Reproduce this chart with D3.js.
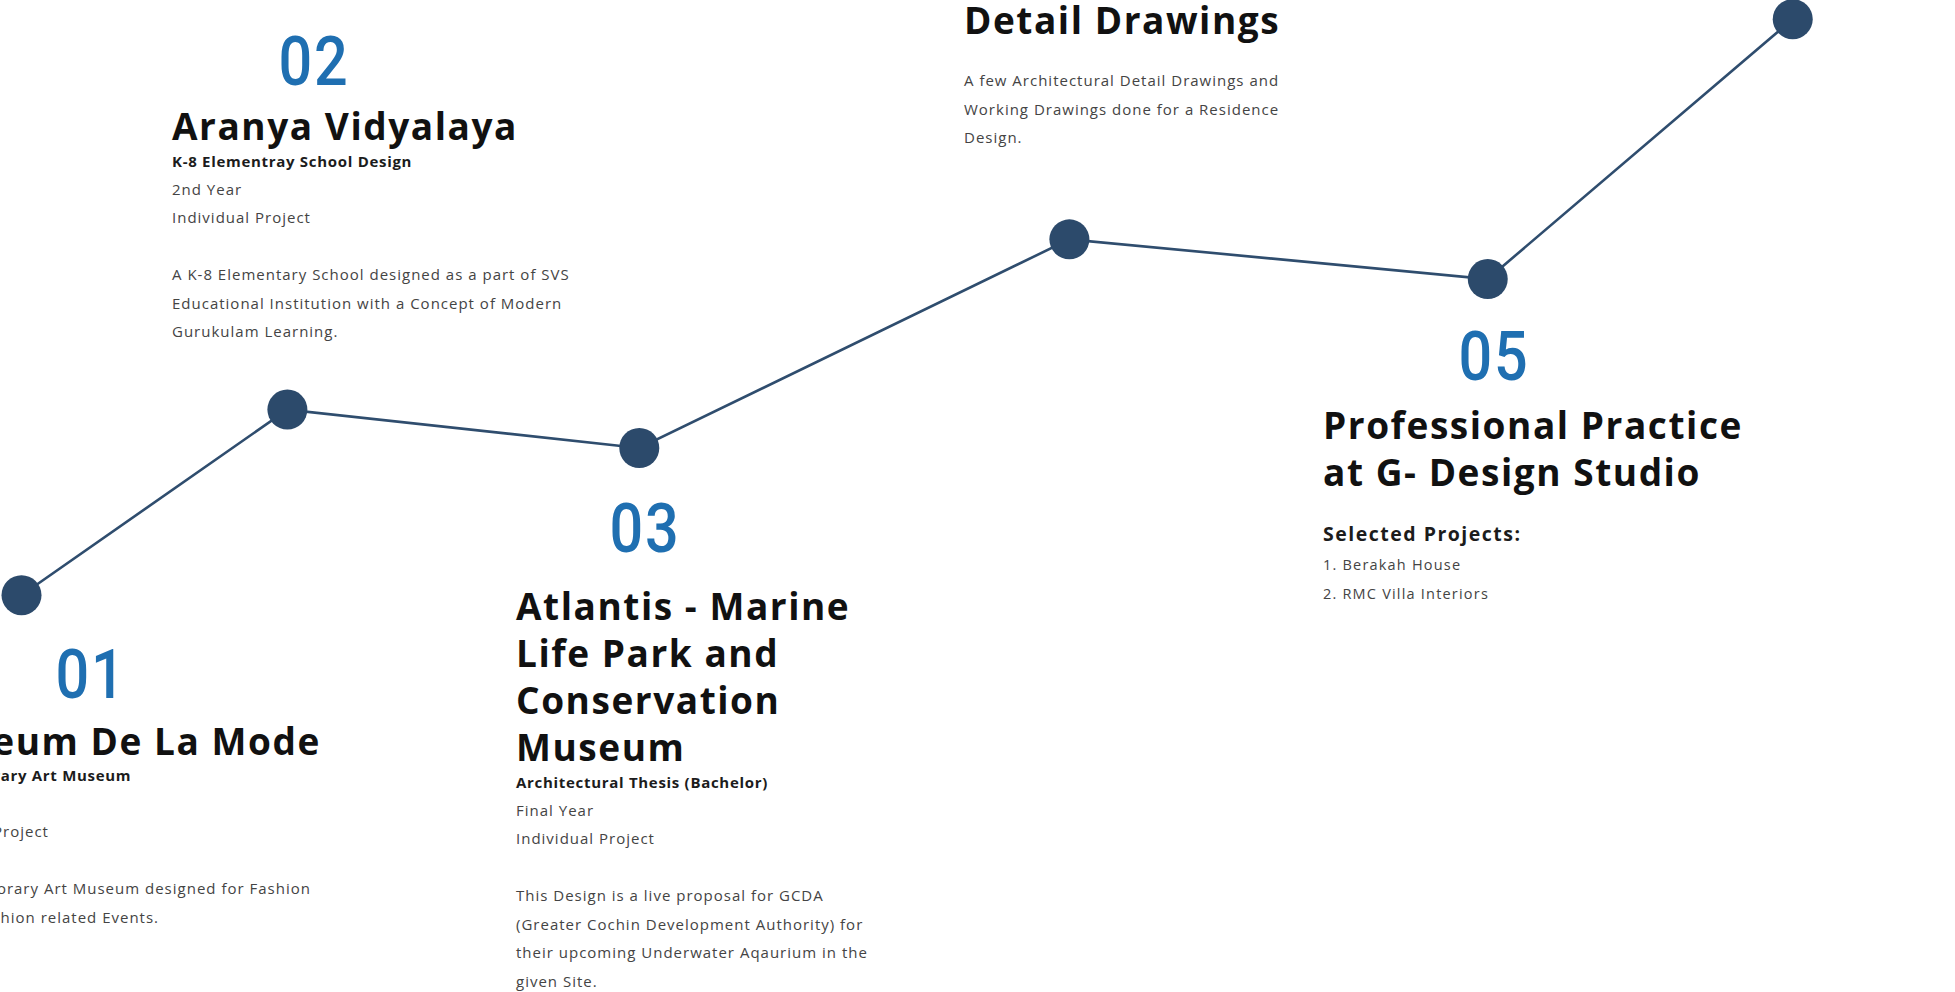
<!DOCTYPE html>
<html>
<head>
<meta charset="utf-8">
<script src="https://cdn.jsdelivr.net/npm/d3@7"></script>
<style>
  html, body { margin: 0; padding: 0; background: #ffffff; overflow: hidden; }
  svg { display: block; }
</style>
</head>
<body>
<svg id="chart" width="1955" height="992"></svg>
<script>
// ---------- data ----------
const stageIds = ["01", "02", "03", "04", "05", "06"];
const stagePosition = [1.1, 14.7, 32.7, 54.7, 76.1, 91.7];   // progress along timeline (0-100)
const stageLevel = [7, 36, 30, 62.6, 56.4, 97];                // growth level (0-100)

const projectNumbers = ["01", "02", "03", "04", "05"];
const projectTitles = [
  ["Museum De La Mode"],
  ["Aranya Vidyalaya"],
  ["Atlantis - Marine", "Life Park and", "Conservation", "Museum"],
  ["Detail Drawings"],
  ["Professional Practice", "at G- Design Studio"]
];
const projectSubtitles = [
  "Contemporary Art Museum",
  "K-8 Elementray School Design",
  "Architectural Thesis (Bachelor)",
  "",
  "Selected Projects:"
];
const projectMeta = [
  ["3rd Year", "Individual Project"],
  ["2nd Year", "Individual Project"],
  ["Final Year", "Individual Project"],
  [],
  ["1. Berakah House", "2. RMC Villa Interiors"]
];
const projectDescriptions = [
  ["A Contemporary Art Museum designed for Fashion", "Week & Fashion related Events."],
  ["A K-8 Elementary School designed as a part of SVS", "Educational Institution with a Concept of Modern", "Gurukulam Learning."],
  ["This Design is a live proposal for GCDA", "(Greater Cochin Development Authority) for", "their upcoming Underwater Aqaurium in the", "given Site."],
  ["A few Architectural Detail Drawings and", "Working Drawings done for a Residence", "Design."],
  []
];

// ---------- layout (positions & styles) ----------
const W = 1955, H = 992;
const layout = [
  { x: -90,  numX: 91,   numY: 698, titleY: 755, subGap: 26, showNum: true },
  { x: 172,  numX: 314,  numY: 85,  titleY: 140, subGap: 27, showNum: true },
  { x: 516,  numX: 645,  numY: 552, titleY: 620, subGap: 27, showNum: true },
  { x: 964,  numX: 1120, numY: -80, titleY: 34,  subGap: 27, showNum: false },
  { x: 1323, numX: 1494, numY: 380, titleY: 439, subGap: 55, showNum: true }
];
const style = {
  line: "#2f4d6e", node: "#2c4a6b", number: "#1f6fb1",
  title: "#111111", sub: "#1c1c1c", body: "#444444"
};

const svg = d3.select("#chart");

const x = d3.scaleLinear().domain([0, 100]).range([0, W]);
const y = d3.scaleLinear().domain([0, 100]).range([640, 0]);

const points = stageIds.map((id, i) => ({ id, p: stagePosition[i], v: stageLevel[i] }));

// line
svg.append("path")
  .datum(points)
  .attr("fill", "none")
  .attr("stroke", style.line)
  .attr("stroke-width", 2.6)
  .attr("d", d3.line().x(d => x(d.p)).y(d => y(d.v)));

// nodes
svg.selectAll("circle.node")
  .data(points)
  .join("circle")
  .attr("class", "node")
  .attr("cx", d => x(d.p))
  .attr("cy", d => y(d.v))
  .attr("r", 20)
  .attr("fill", style.node);

// text blocks
const lineH = 28.5, titleH = 47;
projectNumbers.forEach((num, i) => {
  const L = layout[i];
  const g = svg.append("g");
  if (L.showNum) {
    g.append("text")
      .attr("transform", `translate(${L.numX},${L.numY}) scale(0.86,1)`)
      .attr("text-anchor", "middle")
      .attr("font-family", "Roboto, sans-serif")
      .attr("font-weight", 500)
      .attr("font-size", 69)
      .attr("letter-spacing", 2)
      .attr("fill", style.number)
      .text(num);
  }
  let cy = L.titleY;
  projectTitles[i].forEach((t, k) => {
    if (k > 0) cy += titleH;
    g.append("text")
      .attr("x", L.x).attr("y", cy)
      .attr("font-family", "'Open Sans', sans-serif")
      .attr("font-weight", 700)
      .attr("font-size", 37)
      .attr("letter-spacing", 1.55)
      .attr("fill", style.title)
      .text(t);
  });
  const sub = projectSubtitles[i];
  if (sub) {
    cy += L.subGap;
    const big = i === 4;
    g.append("text")
      .attr("x", L.x).attr("y", cy)
      .attr("font-family", "'Open Sans', sans-serif")
      .attr("font-weight", 700)
      .attr("font-size", big ? 19.5 : 15)
      .attr("letter-spacing", big ? 1.5 : 0.7)
      .attr("fill", style.sub)
      .text(sub);
  }
  projectMeta[i].forEach(t => {
    cy += (i === 4 ? 29 : 28);
    g.append("text")
      .attr("x", L.x).attr("y", cy)
      .attr("font-family", "'Open Sans', sans-serif")
      .attr("font-size", i === 4 ? 14.5 : 15)
      .attr("letter-spacing", i === 4 ? 1.2 : 1.0)
      .attr("fill", style.body)
      .text(t);
  });
  const desc = projectDescriptions[i];
  if (desc.length) {
    cy += (projectMeta[i].length ? 57 : 52) - lineH;
    desc.forEach(t => {
      cy += lineH;
      g.append("text")
        .attr("x", L.x).attr("y", cy)
        .attr("font-family", "'Open Sans', sans-serif")
        .attr("font-size", 15)
        .attr("letter-spacing", 1.0)
        .attr("fill", style.body)
        .text(t);
    });
  }
});
</script>
</body>
</html>
